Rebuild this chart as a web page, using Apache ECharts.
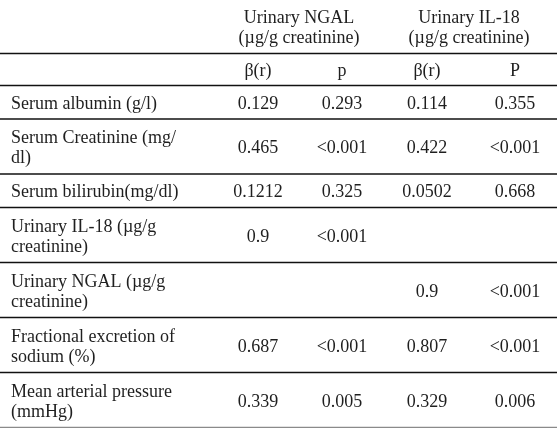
<!DOCTYPE html>
<html><head><meta charset="utf-8">
<script src="https://cdn.jsdelivr.net/npm/echarts@6/dist/echarts.min.js"></script>
<style>html,body{margin:0;padding:0;background:#fff}#c{width:557px;height:428px}</style>
</head><body><div id="c"></div>
<script>
// ---- data ----
var groupHeaders = ['Urinary NGAL\n(µg/g creatinine)', 'Urinary IL-18\n(µg/g creatinine)'];
var subHeaders = ['β(r)', 'p', 'β(r)', 'P'];
var rowLabels = [
  'Serum albumin (g/l)',
  'Serum Creatinine (mg/\ndl)',
  'Serum bilirubin(mg/dl)',
  'Urinary IL-18 (µg/g\ncreatinine)',
  'Urinary NGAL (µg/g\ncreatinine)',
  'Fractional excretion of\nsodium (%)',
  'Mean arterial pressure\n(mmHg)'
];
var ngalBeta = ['0.129', '0.465', '0.1212', '0.9', '', '0.687', '0.339'];
var ngalP    = ['0.293', '<0.001', '0.325', '<0.001', '', '<0.001', '0.005'];
var il18Beta = ['0.114', '0.422', '0.0502', '', '0.9', '0.807', '0.329'];
var il18P    = ['0.355', '<0.001', '0.668', '', '<0.001', '<0.001', '0.006'];

// ---- layout ----
var W = 557, H = 428;
var FONT = '"Liberation Serif", "DejaVu Serif", serif';
var FS = 18, LH = 20, TY = 1.5;
var colX = [258, 342, 427, 515];
var groupX = [299, 469];
var labelX = 11;
var headTop = 0, head1H = 54, head2H = 32;
var singleH = 33.5, doubleH = 55;

var rowTops = [];
var y = headTop + head1H + head2H;
for (var i = 0; i < rowLabels.length; i++) {
  rowTops.push(y);
  y += rowLabels[i].indexOf('\n') >= 0 ? doubleH : singleH;
}
var rowBottoms = rowTops.map(function (t, i) {
  return t + (rowLabels[i].indexOf('\n') >= 0 ? doubleH : singleH);
});

var cols = [ngalBeta, ngalP, il18Beta, il18P];
var textStyleBase = { fontFamily: FONT, fontSize: FS, fill: '#1f1f1f', lineHeight: LH };

function renderRow(params, api) {
  var idx = api.value(0);
  var top = rowTops[idx], bot = rowBottoms[idx];
  var mid = (top + bot) / 2 + TY;
  var children = [];
  var p = api.coord([labelX, mid]);
  children.push({ type: 'text', style: Object.assign({}, textStyleBase, {
    text: rowLabels[idx], x: p[0], y: p[1], align: 'left', verticalAlign: 'middle' }) });
  for (var c = 0; c < cols.length; c++) {
    var v = cols[c][idx];
    if (!v) continue;
    var q = api.coord([colX[c], mid]);
    children.push({ type: 'text', style: Object.assign({}, textStyleBase, {
      text: v, x: q[0], y: q[1], align: 'center', verticalAlign: 'middle' }) });
  }
  var l0 = api.coord([0, bot]), l1 = api.coord([W, bot]);
  var last = idx === rowLabels.length - 1;
  children.push({ type: 'line', shape: { x1: l0[0], y1: l0[1] - 0.5, x2: l1[0], y2: l1[1] - 0.5 },
    style: { stroke: last ? '#8a8a8a' : '#111', lineWidth: last ? 1.6 : 1.3 } });
  return { type: 'group', children: children };
}

function renderHeader(params, api) {
  var children = [];
  var m1 = headTop + head1H / 2 + TY;
  for (var g = 0; g < groupHeaders.length; g++) {
    var p = api.coord([groupX[g], m1]);
    children.push({ type: 'text', style: Object.assign({}, textStyleBase, {
      text: groupHeaders[g], x: p[0], y: p[1], align: 'center', verticalAlign: 'middle' }) });
  }
  var m2 = headTop + head1H + head2H / 2 + TY;
  for (var s = 0; s < subHeaders.length; s++) {
    var q = api.coord([colX[s], m2]);
    children.push({ type: 'text', style: Object.assign({}, textStyleBase, {
      text: subHeaders[s], x: q[0], y: q[1], align: 'center', verticalAlign: 'middle' }) });
  }
  [headTop + head1H, headTop + head1H + head2H].forEach(function (yy) {
    var a = api.coord([0, yy]), b = api.coord([W, yy]);
    children.push({ type: 'line', shape: { x1: a[0], y1: a[1] - 0.5, x2: b[0], y2: b[1] - 0.5 },
      style: { stroke: '#111', lineWidth: 1.3 } });
  });
  return { type: 'group', children: children };
}

var chart = echarts.init(document.getElementById('c'), null, { renderer: 'canvas' });
chart.setOption({
  backgroundColor: '#fff',
  animation: false,
  grid: { left: 0, right: 0, top: 0, bottom: 0 },
  xAxis: { type: 'value', min: 0, max: W, show: false },
  yAxis: { type: 'value', min: 0, max: H, inverse: true, show: false },
  series: [
    { type: 'custom', renderItem: renderHeader, data: [[0]], silent: true },
    { type: 'custom', renderItem: renderRow, data: rowLabels.map(function (_, i) { return [i]; }), silent: true }
  ]
});
</script></body></html>
